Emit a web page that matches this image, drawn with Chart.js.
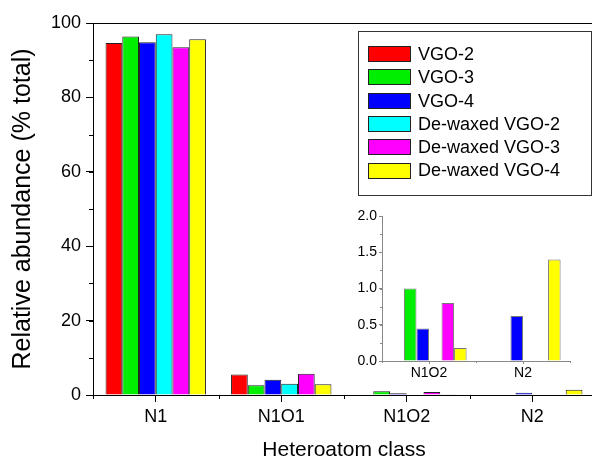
<!DOCTYPE html>
<html>
<head>
<meta charset="utf-8">
<script src="https://cdn.jsdelivr.net/npm/chart.js@4/dist/chart.umd.min.js"></script>
<style>
  html, body { margin: 0; padding: 0; background: #fff; overflow: hidden; }
  #wrap { position: relative; width: 592px; height: 459px; overflow: hidden; }
  #main { position: absolute; left: 0; top: 0; }
  #inset { position: absolute; left: 340px; top: 196px; }
</style>
</head>
<body>
<div id="wrap">
  <canvas id="main" width="600" height="459"></canvas>
  <canvas id="inset" width="250" height="200"></canvas>
</div>
<script>
// Data
const classes = ["N1", "N1O1", "N1O2", "N2"];
const seriesNames = ["VGO-2", "VGO-3", "VGO-4", "De-waxed VGO-2", "De-waxed VGO-3", "De-waxed VGO-4"];
const vgo2 = [94.6, 5.5, 0, 0];
const vgo3 = [96.4, 2.6, 1.0, 0];
const vgo4 = [94.8, 4.1, 0.45, 0.62];
const dewaxedVgo2 = [97.0, 3.0, 0, 0];
const dewaxedVgo3 = [93.5, 5.7, 0.8, 0];
const dewaxedVgo4 = [95.6, 2.9, 0.18, 1.4];
const yTicksMain = [0, 20, 40, 60, 80, 100];
const yTicksInset = [0, 0.5, 1.0, 1.5, 2.0];
const insetClasses = ["N1O2", "N2"];

const colors = ["#ff0000", "#00ee00", "#0000ff", "#00ffff", "#ff00ff", "#ffff00"];
const allSeries = [vgo2, vgo3, vgo4, dewaxedVgo2, dewaxedVgo3, dewaxedVgo4];
const FONT = "'Liberation Sans', Arial, sans-serif";

Chart.defaults.font.family = FONT;
Chart.defaults.color = "#000";
Chart.defaults.animation = false;

// minor ticks + frame line, drawn from the scales
function axisExtras(opts) {
  return {
    id: "axisExtras",
    afterDraw(chart) {
      const ctx = chart.ctx, x = chart.scales.x, y = chart.scales.y, a = chart.chartArea;
      ctx.save();
      ctx.strokeStyle = opts.color;
      ctx.lineWidth = 1;
      ctx.beginPath();
      // minor y ticks
      for (let v = y.min; v <= y.max + 1e-9; v += opts.yMinor) {
        const py = Math.round(y.getPixelForValue(v)) + 0.5;
        ctx.moveTo(a.left - opts.minorLen, py);
        ctx.lineTo(a.left, py);
      }
      // boundary ticks on x
      const n = chart.data.labels.length;
      const w = (a.right - a.left) / n;
      for (let i = 0; i <= n; i++) {
        const px = Math.round(a.left + i * w) + 0.5;
        ctx.moveTo(px, a.bottom);
        ctx.lineTo(px, a.bottom + opts.minorLen);
      }
      if (opts.frameTop) {
        ctx.moveTo(a.left, Math.round(a.top) + 0.5);
        ctx.lineTo(a.right, Math.round(a.top) + 0.5);
      }
      ctx.stroke();
      ctx.restore();
    }
  };
}

const legendBox = {
  id: "legendBox",
  afterDraw(chart) {
    const ctx = chart.ctx;
    ctx.save();
    ctx.strokeStyle = "#333";
    ctx.lineWidth = 1;
    ctx.strokeRect(358.5, 31.5, 233, 164);
    ctx.font = "18px " + FONT;
    ctx.textBaseline = "middle";
    ctx.fillStyle = "#000";
    chart.data.datasets.forEach((ds, i) => {
      const cy = 54 + i * 23.3;
      ctx.fillStyle = ds.backgroundColor;
      ctx.fillRect(368, Math.round(cy - 8), 43, 16);
      ctx.strokeStyle = "#222";
      ctx.strokeRect(368.5, Math.round(cy - 8) + 0.5, 42, 15);
      ctx.fillStyle = "#000";
      ctx.fillText(ds.label, 418, cy + 1);
    });
    ctx.restore();
  }
};

new Chart(document.getElementById("main"), {
  type: "bar",
  data: {
    labels: classes,
    datasets: seriesNames.map((name, i) => ({
      label: name,
      data: allSeries[i],
      backgroundColor: colors[i],
      borderColor: "#222",
      borderWidth: 1,
      categoryPercentage: 0.8,
      barPercentage: 1.0
    }))
  },
  options: {
    responsive: false,
    layout: { padding: { top: 23, right: 5, left: 0, bottom: 0 } },
    plugins: { legend: { display: false }, tooltip: { enabled: false } },
    scales: {
      x: {
        afterFit: s => { s.height = 64; },
        grid: { offset: false, drawOnChartArea: false, tickLength: 7, color: "#000", tickColor: "#000" },
        border: { color: "#000", width: 1 },
        ticks: { font: { size: 18 }, padding: 4, color: "#000" },
        title: { display: true, text: "Heteroatom class", font: { size: 21, lineHeight: 1 }, padding: { top: 0, bottom: -2 }, color: "#000" }
      },
      y: {
        min: 0, max: 100,
        afterFit: s => { s.width = 93; },
        afterBuildTicks: s => { s.ticks = yTicksMain.map(v => ({ value: v })); },
        grid: { drawOnChartArea: false, tickLength: 7, color: "#000", tickColor: "#000" },
        border: { color: "#000", width: 1 },
        ticks: { font: { size: 18 }, padding: 5, color: "#000" },
        title: { display: true, text: "Relative abundance (% total)", font: { size: 25 }, padding: { top: 8, bottom: 0 }, color: "#000" }
      }
    }
  },
  plugins: [axisExtras({ color: "#000", yMinor: 10, minorLen: 4, frameTop: true }), legendBox]
});

new Chart(document.getElementById("inset"), {
  type: "bar",
  data: {
    labels: insetClasses,
    datasets: seriesNames.map((name, i) => ({
      label: name,
      data: allSeries[i].slice(2, 4),
      backgroundColor: colors[i],
      borderColor: "#777",
      borderWidth: 1,
      categoryPercentage: 0.8,
      barPercentage: 1.0
    }))
  },
  options: {
    responsive: false,
    layout: { padding: { top: 20, right: 20, left: 0, bottom: 0 } },
    plugins: { legend: { display: false }, tooltip: { enabled: false } },
    scales: {
      x: {
        afterFit: s => { s.height = 35; },
        grid: { offset: false, drawOnChartArea: false, tickLength: 3, color: "#888", tickColor: "#888" },
        border: { color: "#888", width: 1 },
        ticks: { font: { size: 14 }, padding: 1, color: "#000" }
      },
      y: {
        min: 0, max: 2,
        afterFit: s => { s.width = 42; },
        afterBuildTicks: s => { s.ticks = yTicksInset.map(v => ({ value: v })); },
        grid: { drawOnChartArea: false, tickLength: 3, color: "#888", tickColor: "#888" },
        border: { color: "#888", width: 1 },
        ticks: { font: { size: 14 }, padding: 2, color: "#000", callback: v => Number(v).toFixed(1) }
      }
    }
  },
  plugins: [axisExtras({ color: "#888", yMinor: 0.25, minorLen: 2, frameTop: false })]
});
</script>
</body>
</html>
